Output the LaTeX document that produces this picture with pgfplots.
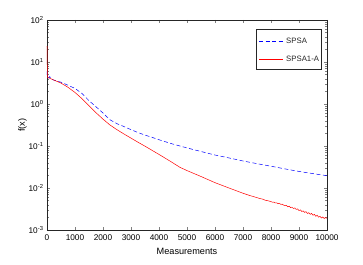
\documentclass[border=0pt]{standalone}
\usepackage{pgfplots}
\pgfplotsset{compat=1.18}
\usepackage{fontspec}
\setmainfont{Liberation Sans}
\definecolor{axgray}{RGB}{38,38,38}
\begin{document}
\begin{tikzpicture}
\begin{axis}[
  name=ax,
  scale only axis,
  width=280bp, height=210bp,
  ymode=log,
  xmin=0, xmax=10000,
  ymin=1e-3, ymax=1e2,
  clip=false,
  xtick={0,1000,2000,3000,4000,5000,6000,7000,8000,9000,10000},
  xticklabels={0,1000,2000,3000,4000,5000,6000,7000,8000,9000,10000},
  ytick={1e-3,1e-2,1e-1,1e0,1e1,1e2},
  yticklabels={10\textsuperscript{-3},10\textsuperscript{-2},10\textsuperscript{-1},10\textsuperscript{0},10\textsuperscript{1},10\textsuperscript{2}},
  scaled x ticks=false,
  tick align=inside,
  major tick length=3bp,
  minor tick length=1.6bp,
  axis line style={axgray, line width=0.5pt},
  tick style={line width=0.4pt},
  tick label style={font=\fontsize{8.3}{10}\selectfont},
  xticklabel style={yshift=-1.5bp},
  xlabel={Measurements},
  ylabel={f(x)},
  label style={font=\fontsize{9.2}{11}\selectfont},
  xlabel style={yshift=0bp},
  ylabel style={yshift=-5bp},
]
\addplot[blue, dashed, line width=0.5pt, dash pattern=on 4bp off 2.5bp] coordinates {
(0,6) (15,4.3) (60,4.2) (100,4.5) (130,4.0) (250,3.7) (500,3.3) (750,2.8) (1000,2.35)
(1250,1.78) (1500,1.2) (1750,0.86) (2000,0.61) (2250,0.42) (2500,0.34) (2750,0.29)
(3000,0.245) (3250,0.209) (3500,0.182) (3750,0.161) (4000,0.141) (4250,0.125) (4500,0.111)
(4750,0.100) (5000,0.090) (5500,0.074) (6000,0.061) (6500,0.052) (7000,0.044) (7500,0.038)
(8000,0.033) (8500,0.0285) (9000,0.0248) (9500,0.022) (10000,0.0196)
};
\addplot[red, line width=0.5pt] coordinates {
(0,24) (15,4.3) (100,4.1) (250,3.7) (500,3.15) (750,2.5) (1000,1.88) (1250,1.34) (1500,0.91)
(1750,0.62) (2000,0.436) (2250,0.316) (2500,0.244) (2750,0.193) (3000,0.154) (3250,0.123)
(3500,0.099) (3750,0.079) (4000,0.063) (4250,0.050) (4500,0.0395) (4750,0.031) (5000,0.026)
(5500,0.0188) (6000,0.0134) (6500,0.0100) (7000,0.0075) (7250,0.0066) (7500,0.0059)
(7600,0.0056) (7700,0.00545) (7800,0.0051) (7900,0.00495) (8000,0.00475)
(8050,0.00458) (8100,0.00462) (8150,0.00440) (8200,0.00445) (8250,0.00425) (8300,0.00432)
(8350,0.00408) (8400,0.00412) (8450,0.00392) (8500,0.00380) (8550,0.00385) (8600,0.00358)
(8650,0.00368) (8700,0.00342) (8750,0.00350) (8800,0.00325) (8850,0.00336) (8900,0.00310)
(8950,0.00318) (9000,0.00290) (9050,0.00302) (9100,0.00276) (9150,0.00286) (9200,0.00262)
(9250,0.00274) (9300,0.00248) (9350,0.00258) (9400,0.00236) (9450,0.00248) (9500,0.00225)
(9550,0.00236) (9600,0.00212) (9650,0.00224) (9700,0.00202) (9750,0.00212) (9800,0.00193)
(9850,0.00204) (9900,0.00188) (9950,0.00198) (10000,0.00190)
};
\end{axis}
% legend
\draw[axgray, line width=0.5pt, fill=white] ([xshift=209bp,yshift=161bp]ax.south west) rectangle ([xshift=274bp,yshift=201bp]ax.south west);
\draw[blue, line width=0.5pt, dash pattern=on 4bp off 2.5bp] ([xshift=212bp,yshift=189bp]ax.south west) -- ([xshift=236bp,yshift=189bp]ax.south west);
\draw[red, line width=0.5pt] ([xshift=212bp,yshift=171bp]ax.south west) -- ([xshift=236bp,yshift=171bp]ax.south west);
\node[anchor=west, inner sep=0pt, font=\fontsize{7.8}{9}\selectfont, text=axgray] at ([xshift=239bp,yshift=189bp]ax.south west) {SPSA};
\node[anchor=west, inner sep=0pt, font=\fontsize{7.8}{9}\selectfont, text=axgray] at ([xshift=239bp,yshift=171bp]ax.south west) {SPSA1-A};
\pgfresetboundingbox
\path[use as bounding box] ([xshift=-47bp,yshift=-35bp]ax.south west) rectangle ([xshift=316bp,yshift=230bp]ax.south west);
\end{tikzpicture}
\end{document}
